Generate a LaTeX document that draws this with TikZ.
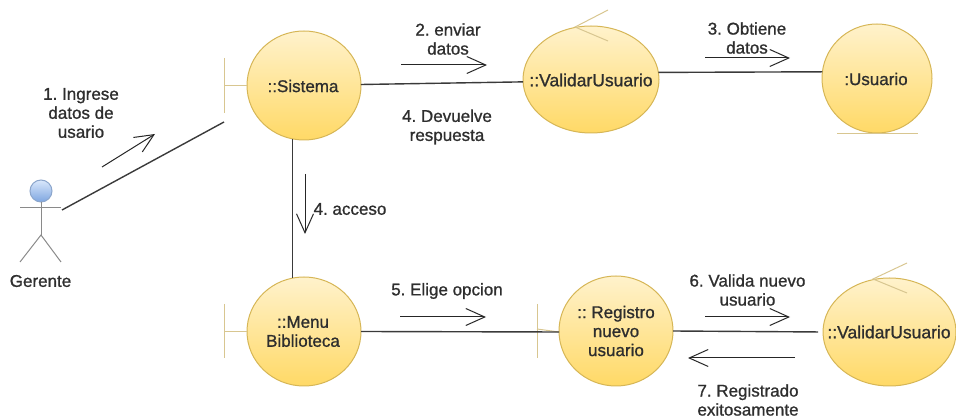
\documentclass[tikz,border=0pt]{standalone}
\usepackage{fontspec}
\setmainfont{Liberation Sans}[FakeBold=1]
\frenchspacing
\usetikzlibrary{arrows.meta,shapes.geometric}
\definecolor{ink}{HTML}{2E2E2E}
\definecolor{wire}{HTML}{3A3A3A}
\definecolor{ctrlborder}{HTML}{D6B656}
\definecolor{ctrltop}{HTML}{FFF2CC}
\definecolor{ctrlbot}{HTML}{FFD966}
\definecolor{teecol}{HTML}{D8C690}
\definecolor{actorline}{HTML}{8A8A8A}
\definecolor{headborder}{HTML}{8CA6CC}
\definecolor{headtop}{HTML}{DAE8FC}
\definecolor{headbot}{HTML}{7EA6E0}
\tikzset{
  ctrl/.style={ellipse,draw=ctrlborder,line width=1pt,top color=ctrltop,bottom color=ctrlbot,inner sep=0pt,outer sep=0pt},
  lbl/.style={align=center,text=ink,inner sep=0pt,font=\fontsize{17}{19}\selectfont},
  wirel/.style={draw=wire,line width=1.4pt},
  msg/.style={draw=black!85,line width=1pt,-{Straight Barb[length=19pt,width=17pt,line width=1pt]}},
  tee/.style={draw=teecol,line width=1pt},
  stick/.style={draw=actorline,line width=1pt}
}
\begin{document}
\begin{tikzpicture}[x=1pt,y=-1pt]
\useasboundingbox (0,0) rectangle (956,419);
% controllers and entities
\node[ctrl,minimum width=114pt,minimum height=109pt] (sistema) at (304,85.5) {};
\node[ctrl,minimum width=136pt,minimum height=107pt] (validar) at (591,79.5) {};
\node[ctrl,minimum width=110pt,minimum height=109pt] (usuario) at (877,78.5) {};
\node[ctrl,minimum width=114pt,minimum height=109pt] (menu) at (304,331.5) {};
\node[ctrl,minimum width=114pt,minimum height=110pt] (registro) at (616,331) {};
\node[ctrl,minimum width=133pt,minimum height=108pt] (validarb) at (889.5,332) {};
% stereotype marks
\coordinate (sisT1) at (224,58); \coordinate (sisT2) at (224,113); \coordinate (sisT3) at (224,85.5);
\draw[tee] (sisT1) -- (sisT2); \draw[tee] (sisT3) -- (sistema.west);
\coordinate (menT1) at (224,304); \coordinate (menT2) at (224,358); \coordinate (menT3) at (224,331.5);
\draw[tee] (menT1) -- (menT2); \draw[tee] (menT3) -- (menu.west);
\coordinate (regT1) at (537,304); \coordinate (regT2) at (537,358); \coordinate (regT3) at (537,329);
\draw[tee] (regT1) -- (regT2); \draw[tee] (regT3) -- (registro.181);
\coordinate (valA) at (575,27); \coordinate (valB) at (608,10); \coordinate (valC) at (608,41);
\draw[tee] (valB) -- (valA) -- (valC);
\coordinate (vbA) at (873,279); \coordinate (vbB) at (907,263); \coordinate (vbC) at (907,293);
\draw[tee] (vbB) -- (vbA) -- (vbC);
\coordinate (usuL) at (837,133.2); \coordinate (usuR) at (918,133.2);
\draw[tee] (usuL) -- (usuR);
% actor
\node[circle,draw=headborder,line width=1pt,top color=headtop,bottom color=headbot,minimum size=22pt,inner sep=0pt] (head) at (41,191) {};
\coordinate (armL) at (20,208); \coordinate (armR) at (61,208);
\coordinate (hip) at (41,235); \coordinate (legL) at (20,262); \coordinate (legR) at (61,262);
\draw[stick] (head.south) -- (hip);
\draw[stick] (armL) -- (armR);
\draw[stick] (legL) -- (hip) -- (legR);
\node[lbl] (gerente) at (40.5,281) {Gerente};
% links
\coordinate (actorEnd) at (62,210); \coordinate (sisEnd) at (224,122);
\draw[wirel] (actorEnd) -- (sisEnd);
\draw[wirel] (sistema.1.5) -- (validar.182);
\draw[wirel] (validar.6.4) -- (usuario.173);
\draw[wirel] (sistema.258) -- (menu.102);
\draw[wirel] (menu.east) -- (registro.181);
\draw[wirel,shorten >=5pt] (registro.east) -- (validarb.west);
% messages
\coordinate (m1a) at (102,167); \coordinate (m1b) at (155,134);
\draw[msg] (m1a) -- (m1b);
\coordinate (m2a) at (401,65); \coordinate (m2b) at (487,65);
\draw[msg] (m2a) -- (m2b);
\coordinate (m3a) at (705,58); \coordinate (m3b) at (790,58);
\draw[msg] (m3a) -- (m3b);
\coordinate (m4a) at (305,174); \coordinate (m4b) at (305,234);
\draw[msg] (m4a) -- (m4b);
\coordinate (m5a) at (400,317); \coordinate (m5b) at (486,317);
\draw[msg] (m5a) -- (m5b);
\coordinate (m6a) at (705,317); \coordinate (m6b) at (790,317);
\draw[msg] (m6a) -- (m6b);
\coordinate (m7a) at (795,358); \coordinate (m7b) at (688,358);
\draw[msg] (m7a) -- (m7b);
% labels
\node[lbl] (tSis) at (303,86) {::Sistema};
\node[lbl,font=\fontsize{17.5}{19}\selectfont] (tVal) at (591,80) {::ValidarUsuario};
\node[lbl] (tUsu) at (876,79) {:Usuario};
\node[lbl] (tMen) at (303,331.5) {::Menu\\Biblioteca};
\node[lbl] (tReg) at (616,331) {:: Registro\\nuevo\\usuario};
\node[lbl,font=\fontsize{17.5}{19}\selectfont] (tVab) at (889,332) {::ValidarUsuario};
\node[lbl] (l1) at (81,113) {1. Ingrese\\datos de\\usario};
\node[lbl] (l2) at (448,39) {2. enviar\\datos};
\node[lbl] (l4) at (447,127) {4. Devuelve\\respuesta};
\node[lbl] (l3) at (747,38) {3. Obtiene\\datos};
\node[lbl] (l4b) at (350,209) {4. acceso};
\node[lbl] (l5) at (447,291) {5. Elige opcion};
\node[lbl] (l6) at (747.5,290) {6. Valida nuevo\\usuario};
\node[lbl] (l7) at (748,400) {7. Registrado\\exitosamente};
\end{tikzpicture}
\end{document}
